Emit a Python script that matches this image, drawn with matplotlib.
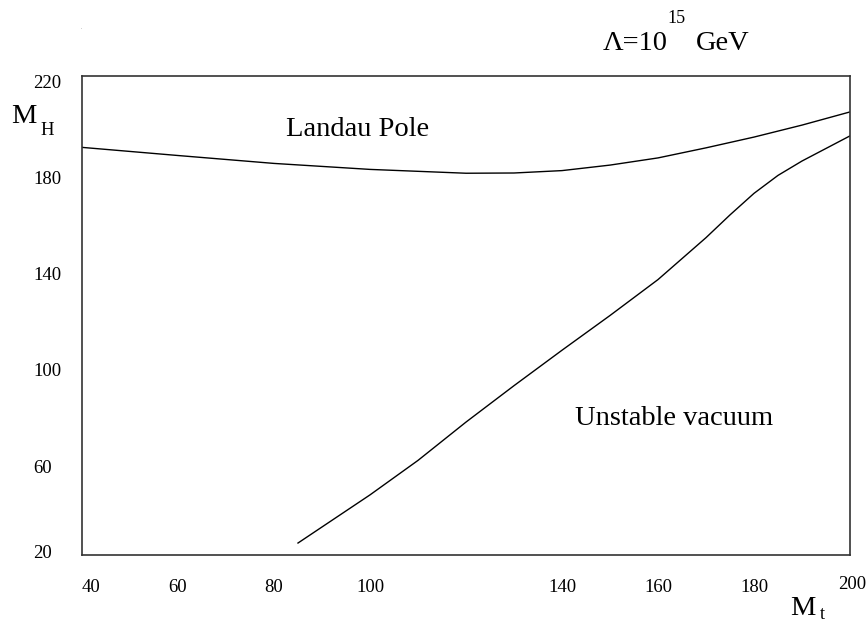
import matplotlib
matplotlib.use("Agg")
import matplotlib.pyplot as plt
import matplotlib.transforms as mtransforms

# Data
landau_mt = [40, 60, 80, 100, 120, 130, 140, 150, 160, 170, 180, 190, 200]
landau_mh = [190.2, 186.8, 183.5, 181.0, 179.4, 179.5, 180.5, 182.8, 185.8, 190.0, 194.5, 199.5, 205.0]

vacuum_mt = [85, 100, 110, 120, 130, 140, 150, 160, 170, 175, 180, 185, 190, 200]
vacuum_mh = [25.0, 45.1, 59.5, 75.5, 90.7, 105.5, 120.0, 135.0, 152.5, 162.0, 171.0, 178.5, 184.5, 195.0]

xticks = [40, 60, 80, 100, 140, 160, 180, 200]
yticks = [20, 60, 100, 140, 180, 220]

W, H = 868, 624
plt.rcParams['font.family'] = ['Liberation Serif', 'DejaVu Serif']
fig = plt.figure(figsize=(W / 100, H / 100), dpi=100)
ax = fig.add_axes([82 / W, 1 - 555 / H, (850 - 82) / W, (555 - 76) / H])

ax.plot(landau_mt, landau_mh, color='black', lw=1.0)
ax.plot(vacuum_mt, vacuum_mh, color='black', lw=1.0)

ax.set_xlim(40, 200)
ax.set_ylim(20, 220)
for s in ax.spines.values():
    s.set_color('#333333')
    s.set_linewidth(1.2)

ax.set_xticks(xticks)
ax.set_xticklabels([str(v) for v in xticks])
ax.set_yticks(yticks)
ax.set_yticklabels([str(v) for v in yticks])
ax.tick_params(axis='both', length=0, labelsize=13.5)
ax.tick_params(axis='x', pad=17)
ax.tick_params(axis='y', pad=35)
yoffs = [4, -7, -6, -6, -6, -6]  # pixel shifts (up positive)
for lab, dy in zip(ax.get_yticklabels(), yoffs):
    lab.set_horizontalalignment('left')
    lab.set_transform(lab.get_transform() + mtransforms.ScaledTranslation(0, dy / 100, fig.dpi_scale_trans))
xl = ax.get_xticklabels()
xl[0].set_horizontalalignment('left')
xl[-1].set_transform(xl[-1].get_transform() + mtransforms.ScaledTranslation(2 / 100, 3 / 100, fig.dpi_scale_trans))

def ftext(x, y, s, size, **kw):
    fig.text(x / W, 1 - y / H, s, fontsize=size, va='baseline', ha='left', **kw)

ftext(286, 136, 'Landau Pole', 20.5)
ftext(575, 425, 'Unstable vacuum', 20.5)
ftext(603, 50, 'Λ=10', 20.5)
ftext(667, 23, '15', 13)
ftext(696, 50, 'GeV', 20.5)
ftext(11, 123, 'M', 20.5)
ftext(40, 135, 'H', 13.5)
ftext(790, 615, 'M', 20.5)
ftext(820, 619, 't', 13)
fig.text(81 / W, 1 - 29 / H, '.', fontsize=3, ha='left', va='baseline')

fig.savefig('out.png', dpi=100)
